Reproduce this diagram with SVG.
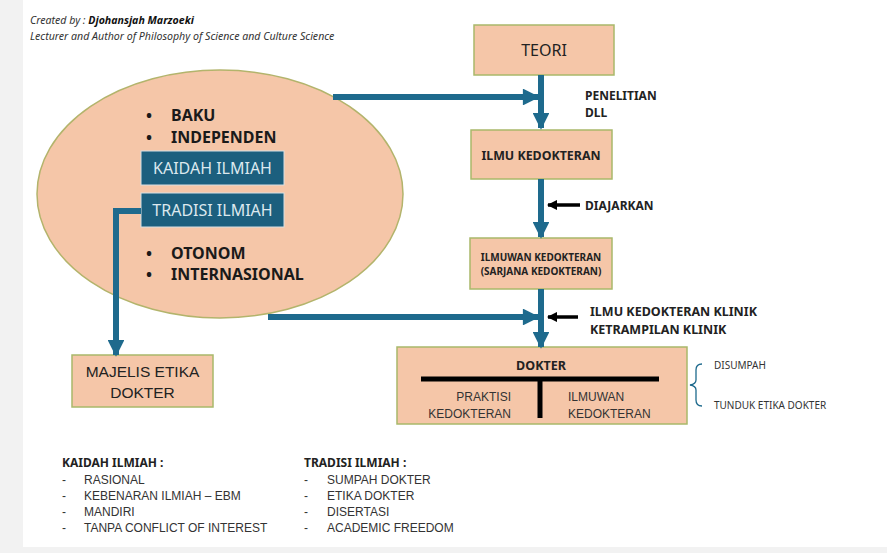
<svg xmlns="http://www.w3.org/2000/svg" width="887" height="553" viewBox="0 0 887 553">
<defs>
<style>
text{font-family:"Noto Sans","Open Sans","Liberation Sans",sans-serif;fill:#222}
.box{fill:#f5c6a8;stroke:#a9b86a;stroke-width:1.5}
.dark{fill:#1c5f7e;stroke:#d6dfe3;stroke-width:1}
.conn{stroke:#1e6a8d;stroke-width:6;fill:none}
.blk{stroke:#000;fill:none}
.b{font-weight:bold}
.hd{font-size:10.6px;font-style:italic;fill:#333}
.lst{font-family:"Liberation Sans",Arial,sans-serif;font-size:12px;fill:#333}
.ar{font-family:"Liberation Sans",Arial,sans-serif}
.bul{font-size:16px;font-weight:bold;fill:#1a1a1a}
</style>
<marker id="ah" viewBox="0 0 10 10" refX="9" refY="5" markerWidth="3" markerHeight="2.8" orient="auto" markerUnits="strokeWidth">
<path d="M0,0 L10,5 L0,10 z" fill="#1e6a8d"/>
</marker>
<marker id="bh" viewBox="0 0 10 10" refX="9" refY="5" markerWidth="3" markerHeight="3" orient="auto" markerUnits="strokeWidth">
<path d="M0,0 L10,5 L0,10 z" fill="#000"/>
</marker>
</defs>
<rect width="887" height="553" fill="#ffffff"/>
<rect x="0" y="0" width="23" height="553" fill="#f2f2f2"/>
<rect x="0" y="547" width="887" height="6" fill="#f2f2f2"/>

<g id="header">
<text x="30" y="24" class="hd">Created by : <tspan class="b" fill="#111">Djohansjah Marzoeki</tspan></text>
<text x="30" y="40" class="hd">Lecturer and Author of Philosophy of Science and Culture Science</text>
</g>

<g id="ellipse">
<ellipse cx="220" cy="194" rx="183" ry="124" fill="#f5c6a8" stroke="#b3b46c" stroke-width="1.5"/>
<text x="146" y="121" class="bul">•</text><text x="171" y="121" class="bul">BAKU</text>
<text x="146" y="143" class="bul">•</text><text x="171" y="143" class="bul">INDEPENDEN</text>
<text x="146" y="259" class="bul">•</text><text x="171" y="259" class="bul">OTONOM</text>
<text x="146" y="280" class="bul">•</text><text x="171" y="280" class="bul">INTERNASIONAL</text>
</g>

<g id="kaidah">
<rect x="141" y="151" width="143" height="34" class="dark"/>
<text x="212.5" y="174" text-anchor="middle" font-size="16" style="fill:#dce8ee">KAIDAH ILMIAH</text>
</g>
<g id="tradisi">
<rect x="141" y="193" width="143" height="34" class="dark"/>
<text x="212.5" y="216" text-anchor="middle" font-size="16" style="fill:#dce8ee">TRADISI ILMIAH</text>
</g>

<g id="teori">
<rect x="474" y="25" width="140" height="50" class="box"/>
<text x="544" y="56" text-anchor="middle" font-size="16">TEORI</text>
</g>
<g id="ilmu">
<rect x="471" y="130" width="141" height="49" class="box"/>
<text x="541" y="160" text-anchor="middle" font-size="12.4" class="b">ILMU KEDOKTERAN</text>
</g>
<g id="ilmuwan">
<rect x="470" y="238" width="142" height="51" class="box"/>
<text x="541" y="261" text-anchor="middle" font-size="10" class="b">ILMUWAN KEDOKTERAN</text>
<text x="541" y="275" text-anchor="middle" font-size="10" class="b">(SARJANA KEDOKTERAN)</text>
</g>
<g id="dokter">
<rect x="397" y="347" width="290" height="77" class="box"/>
<text x="541" y="370" text-anchor="middle" font-size="12.5" class="b">DOKTER</text>
<line x1="421" y1="379" x2="659" y2="379" stroke="#000" stroke-width="5"/>
<line x1="540" y1="379" x2="540" y2="418" stroke="#000" stroke-width="5"/>
<text x="511" y="401" text-anchor="end" font-size="12" class="ar" style="fill:#333">PRAKTISI</text>
<text x="511" y="418" text-anchor="end" font-size="12" class="ar" style="fill:#333">KEDOKTERAN</text>
<text x="568" y="401" font-size="12" class="ar" style="fill:#333">ILMUWAN</text>
<text x="568" y="418" font-size="12" class="ar" style="fill:#333">KEDOKTERAN</text>
</g>
<g id="majelis">
<rect x="72" y="355" width="141" height="52" class="box"/>
<text x="142.5" y="377" text-anchor="middle" font-size="15.5" class="ar">MAJELIS ETIKA</text>
<text x="142.5" y="398" text-anchor="middle" font-size="15.5" class="ar">DOKTER</text>
</g>

<g id="connectors">
<line x1="541" y1="75" x2="541" y2="128" class="conn" marker-end="url(#ah)"/>
<line x1="333" y1="97" x2="538" y2="97" class="conn" marker-end="url(#ah)"/>
<line x1="541" y1="179" x2="541" y2="237" class="conn" marker-end="url(#ah)"/>
<line x1="541" y1="289" x2="541" y2="347" class="conn" marker-end="url(#ah)"/>
<line x1="268" y1="317" x2="538" y2="317" class="conn" marker-end="url(#ah)"/>
<polyline points="141,211 116,211 116,355" class="conn" marker-end="url(#ah)"/>
<line x1="580" y1="205" x2="548" y2="205" class="blk" stroke-width="3.5" marker-end="url(#bh)"/>
<line x1="578" y1="317" x2="548" y2="317" class="blk" stroke-width="3.5" marker-end="url(#bh)"/>
<path d="M702,364 Q696,364 696,370 L696,380 Q696,384 690,385 Q696,386 696,390 L696,400 Q696,406 702,406" fill="none" stroke="#1e6a8d" stroke-width="1.3"/>
</g>

<g id="labels">
<text x="585" y="100" font-size="12" class="b">PENELITIAN</text>
<text x="585" y="117" font-size="12" class="b">DLL</text>
<text x="585" y="210" font-size="12" class="b">DIAJARKAN</text>
<text x="590" y="316" font-size="12.5" class="b">ILMU KEDOKTERAN KLINIK</text>
<text x="590" y="334" font-size="12.5" class="b">KETRAMPILAN KLINIK</text>
<text x="714" y="369" font-size="10" style="fill:#333">DISUMPAH</text>
<text x="714" y="409" font-size="10" style="fill:#333">TUNDUK ETIKA DOKTER</text>
</g>

<g id="legend">
<text x="62" y="467" font-size="12" class="b">KAIDAH ILMIAH :</text>
<text x="62" y="484" class="lst">-</text><text x="84" y="484" class="lst">RASIONAL</text>
<text x="62" y="500" class="lst">-</text><text x="84" y="500" class="lst">KEBENARAN ILMIAH – EBM</text>
<text x="62" y="516" class="lst">-</text><text x="84" y="516" class="lst">MANDIRI</text>
<text x="62" y="532" class="lst">-</text><text x="84" y="532" class="lst">TANPA CONFLICT OF INTEREST</text>
<text x="304" y="467" font-size="12" class="b">TRADISI ILMIAH :</text>
<text x="304" y="484" class="lst">-</text><text x="327" y="484" class="lst">SUMPAH DOKTER</text>
<text x="304" y="500" class="lst">-</text><text x="327" y="500" class="lst">ETIKA DOKTER</text>
<text x="304" y="516" class="lst">-</text><text x="327" y="516" class="lst">DISERTASI</text>
<text x="304" y="532" class="lst">-</text><text x="327" y="532" class="lst">ACADEMIC FREEDOM</text>
</g>
</svg>
